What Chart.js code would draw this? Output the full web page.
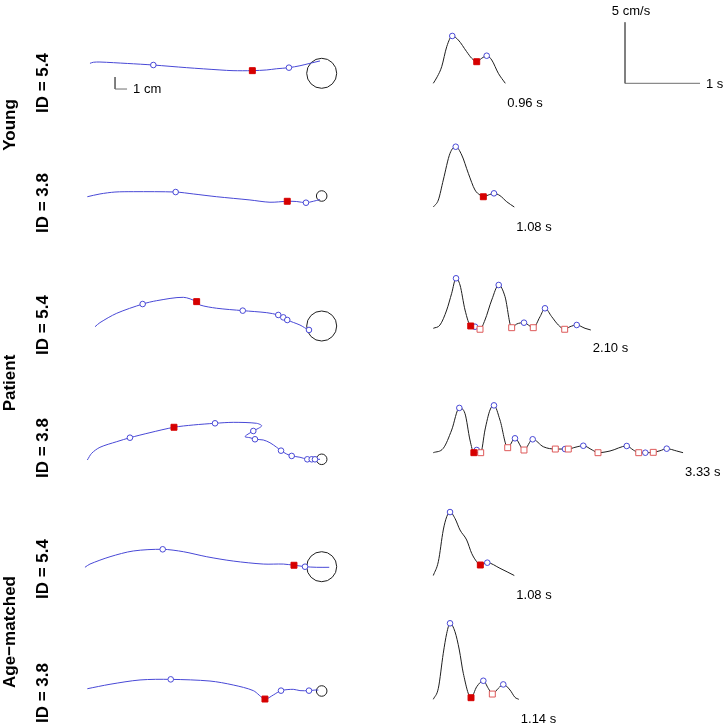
<!DOCTYPE html>
<html>
<head>
<meta charset="utf-8">
<script src="https://cdn.jsdelivr.net/npm/chart.js@4.4.1/dist/chart.umd.min.js"></script>
<style>
  html, body { margin: 0; padding: 0; background: #fff; }
  canvas { display: block; }
</style>
</head>
<body>
<canvas id="fig" width="725" height="727"></canvas>
<script>
// hand paths in cm, target centre at (0,0)
// velocity profiles: [time s, speed cm/s]

const groups = ['Young', 'Patient', 'Age\u2212matched'];
const idLabels = ['ID = 5.4', 'ID = 3.8', 'ID = 5.4', 'ID = 3.8', 'ID = 5.4', 'ID = 3.8'];
const durations = [0.96, 1.08, 2.10, 3.33, 1.08, 1.14];
const targetRadius = [1.25, 0.44, 1.25, 0.44, 1.25, 0.44];

// Young, ID 5.4
const youngHiPath = [[-19.31,0.83],[-19.03,0.92],[-18.48,0.94],[-16.2,0.82],[-14.03,0.69],[-11.25,0.47],[-8.48,0.28],[-7.39,0.22],[-5.78,0.22],[-4.58,0.28],[-3.75,0.38],[-2.73,0.47],[-1.81,0.63],[-0.98,0.83],[-0.14,1.03]];
const youngHiPathPeaks = [[-14.03,0.69],[-2.73,0.47]];
const youngHiPathSwitch = [[-5.78,0.22]];
const youngHiVel = [[0,0],[0.053,0.54],[0.112,1.36],[0.179,3.0],[0.253,3.88],[0.333,3.55],[0.445,2.59],[0.512,2.05],[0.579,1.77],[0.645,2.05],[0.712,2.26],[0.779,1.91],[0.867,0.82],[0.96,0]];
const youngHiVelPeaks = [[0.253,3.88],[0.712,2.26]];
const youngHiVelSwitch = [[0.579,1.77]];
const youngHiVelSub = [];

// Young, ID 3.8
const youngLoPath = [[-19.53,-0.06],[-18.48,0.17],[-17.23,0.33],[-15.7,0.36],[-12.17,0.33],[-10.7,0.17],[-8.75,-0.06],[-5.98,-0.33],[-4.31,-0.52],[-2.87,-0.44],[-2.08,-0.46],[-1.31,-0.56],[-0.7,-0.44],[-0.14,-0.3]];
const youngLoPathPeaks = [[-12.17,0.33],[-1.31,-0.56]];
const youngLoPathSwitch = [[-2.87,-0.44]];
const youngLoVel = [[0,0],[0.067,0.57],[0.133,2.21],[0.223,4.4],[0.299,4.94],[0.379,4.26],[0.467,2.76],[0.556,1.39],[0.623,0.98],[0.667,0.84],[0.733,0.98],[0.809,1.12],[0.889,0.93],[0.979,0.43],[1.08,0]];
const youngLoVelPeaks = [[0.299,4.94],[0.809,1.12]];
const youngLoVelSwitch = [[0.667,0.84]];
const youngLoVelSub = [];

// Patient, ID 5.4
const patientHiPath = [[-18.89,-0.06],[-18.48,0.28],[-17.08,1.06],[-14.92,1.83],[-13.75,2.11],[-11.53,2.39],[-10.42,2.03],[-10.14,1.75],[-8.75,1.48],[-6.58,1.28],[-4.58,1.11],[-3.62,0.92],[-3.2,0.72],[-2.87,0.5],[-1.81,0.08],[-1.06,-0.33],[-0.83,-0.25]];
const patientHiPathPeaks = [[-14.92,1.83],[-6.58,1.28],[-3.62,0.92],[-3.2,0.72],[-2.87,0.5],[-1.06,-0.33]];
const patientHiPathSwitch = [[-10.42,2.03]];
const patientHiVel = [[0,0],[0.089,0.27],[0.179,1.5],[0.245,2.87],[0.303,4.1],[0.356,3.55],[0.423,1.5],[0.499,0.19],[0.556,0.13],[0.623,-0.08],[0.689,0.68],[0.779,2.32],[0.872,3.55],[0.956,2.6],[1.045,0.05],[1.112,0.35],[1.209,0.46],[1.333,0.05],[1.423,0.95],[1.489,1.64],[1.579,0.95],[1.667,0.27],[1.752,-0.08],[1.823,0.13],[1.912,0.27],[2.023,0],[2.1,-0.14]];
const patientHiVelPeaks = [[0.303,4.1],[0.556,0.13],[0.872,3.55],[1.209,0.46],[1.489,1.64],[1.912,0.27]];
const patientHiVelSwitch = [[0.499,0.19]];
const patientHiVelSub = [[0.623,-0.08],[1.045,0.05],[1.333,0.05],[1.752,-0.08]];

// Patient, ID 3.8
const patientLoPath = [[-19.53,-0.06],[-19.17,0.5],[-18.48,1.0],[-17.08,1.47],[-15.98,1.8],[-14.31,2.22],[-12.31,2.67],[-10.7,2.86],[-8.89,3.0],[-7.37,3.08],[-5.42,3.0],[-5.0,2.78],[-5.7,2.36],[-6.25,2.03],[-6.39,1.88],[-5.98,1.8],[-5.56,1.67],[-4.87,1.61],[-4.31,1.38],[-3.75,1.0],[-3.39,0.72],[-2.92,0.44],[-2.5,0.28],[-1.81,0.17],[-1.2,0],[-0.83,0],[-0.56,0],[-0.14,0]];
const patientLoPathPeaks = [[-15.98,1.8],[-8.89,3.0],[-5.7,2.36],[-5.56,1.67],[-3.39,0.72],[-2.5,0.28],[-1.2,0],[-0.83,0],[-0.56,0]];
const patientLoPathSwitch = [[-12.31,2.67]];
const patientLoVel = [[0,0],[0.133,0.36],[0.245,1.86],[0.347,3.67],[0.423,3.2],[0.489,1.04],[0.541,0],[0.579,0.22],[0.632,0],[0.689,1.86],[0.756,3.5],[0.809,3.88],[0.889,2.68],[0.992,0.41],[1.089,1.18],[1.209,0.22],[1.325,1.1],[1.467,0.49],[1.627,0.3],[1.756,0.3],[1.8,0.3],[1.889,0.44],[2.0,0.57],[2.12,0.22],[2.196,0],[2.356,0.14],[2.579,0.55],[2.667,0.22],[2.739,0],[2.827,0],[2.933,0.03],[3.023,0.16],[3.112,0.33],[3.245,0.14],[3.33,0]];
const patientLoVelPeaks = [[0.347,3.67],[0.579,0.22],[0.809,3.88],[1.089,1.18],[1.325,1.1],[1.756,0.3],[2.0,0.57],[2.579,0.55],[2.827,0],[3.112,0.33]];
const patientLoVelSwitch = [[0.541,0]];
const patientLoVelSub = [[0.632,0],[0.992,0.41],[1.209,0.22],[1.627,0.3],[1.8,0.3],[2.196,0],[2.739,0],[2.933,0.03]];

// Age-matched, ID 5.4
const ageHiPath = [[-19.73,-0.05],[-19.31,0.22],[-17.64,0.83],[-15.7,1.31],[-13.25,1.45],[-11.53,1.25],[-9.58,0.83],[-7.37,0.47],[-4.87,0.22],[-3.2,0.22],[-2.31,0.12],[-1.81,0.06],[-1.39,0],[-0.42,-0.05],[0.63,-0.05]];
const ageHiPathPeaks = [[-13.25,1.45],[-1.39,0]];
const ageHiPathSwitch = [[-2.31,0.12]];
const ageHiVel = [[0,0],[0.067,1.13],[0.133,3.73],[0.179,4.82],[0.223,5.2],[0.289,4.68],[0.356,3.73],[0.445,2.91],[0.512,1.81],[0.579,1.13],[0.627,0.86],[0.72,1.05],[0.889,0.59],[1.08,0]];
const ageHiVelPeaks = [[0.223,5.2],[0.72,1.05]];
const ageHiVelSwitch = [[0.627,0.86]];
const ageHiVelSub = [];

// Age-matched, ID 3.8
const ageLoPath = [[-19.53,0.19],[-17.64,0.56],[-15.14,0.92],[-12.58,0.97],[-9.31,0.83],[-7.37,0.5],[-5.7,0.03],[-4.73,-0.67],[-4.03,-0.33],[-3.39,0.03],[-2.37,0.14],[-1.81,0.03],[-1.06,0.03],[-0.56,0.08],[-0.28,0.08]];
const ageLoPathPeaks = [[-12.58,0.97],[-3.39,0.03],[-1.06,0.03]];
const ageLoPathSwitch = [[-4.73,-0.67]];
const ageLoVel = [[0,0],[0.067,0.9],[0.133,3.77],[0.179,5.41],[0.223,6.23],[0.289,5.54],[0.347,4.04],[0.4,2.13],[0.503,0.13],[0.579,1.03],[0.667,1.52],[0.733,0.9],[0.787,0.43],[0.867,0.9],[0.933,1.22],[1.023,0.76],[1.089,0.16],[1.14,0]];
const ageLoVelPeaks = [[0.223,6.23],[0.667,1.52],[0.933,1.22]];
const ageLoVelSwitch = [[0.503,0.13]];
const ageLoVelSub = [[0.787,0.43]];

const rows = [
  [youngHiPath, youngHiPathPeaks, youngHiPathSwitch, youngHiVel, youngHiVelPeaks, youngHiVelSwitch, youngHiVelSub],
  [youngLoPath, youngLoPathPeaks, youngLoPathSwitch, youngLoVel, youngLoVelPeaks, youngLoVelSwitch, youngLoVelSub],
  [patientHiPath, patientHiPathPeaks, patientHiPathSwitch, patientHiVel, patientHiVelPeaks, patientHiVelSwitch, patientHiVelSub],
  [patientLoPath, patientLoPathPeaks, patientLoPathSwitch, patientLoVel, patientLoVelPeaks, patientLoVelSwitch, patientLoVelSub],
  [ageHiPath, ageHiPathPeaks, ageHiPathSwitch, ageHiVel, ageHiVelPeaks, ageHiVelSwitch, ageHiVelSub],
  [ageLoPath, ageLoPathPeaks, ageLoPathSwitch, ageLoVel, ageLoVelPeaks, ageLoVelSwitch, ageLoVelSub]
];

// layout (page pixels)
const W = 725, H = 727;
const pxPerCm = 12, pxPerSec = 75, pxPerSpeed = 12.2;
const targetX = 321.7, velStartX = 433.3;
const targetY = [73.3, 196, 326, 459.3, 566.7, 691];
const velBaseY = [83.3, 207, 328.3, 452.7, 575.5, 699.3];

const blue = 'rgb(72,72,214)';
const red = 'rgb(214,0,0)';
const pink = 'rgb(222,90,90)';
const dark = 'rgb(30,30,30)';
const grey = 'rgb(110,110,110)';

const pts = a => a.map(p => ({x: p[0], y: p[1]}));

const scales = {};
const datasets = [];

function lineSet(data, xs, ys, color, mono) {
  datasets.push({
    data: pts(data), xAxisID: xs, yAxisID: ys, showLine: true,
    borderColor: color, borderWidth: 1, pointRadius: 0, fill: false,
    tension: mono ? 0 : 0.3, cubicInterpolationMode: mono ? 'monotone' : 'default',
    clip: false, order: 3
  });
}

function markSet(data, xs, ys, style, r, stroke, fill, order) {
  if (!data.length) return;
  datasets.push({
    data: pts(data), xAxisID: xs, yAxisID: ys, showLine: false,
    pointStyle: style, pointRadius: r, pointBorderWidth: 1,
    pointBorderColor: stroke, pointBackgroundColor: fill,
    clip: false, order: order
  });
}

rows.forEach((r, i) => {
  const tx = 'xT' + i, ty = 'yT' + i, vx = 'xV' + i, vy = 'yV' + i;
  scales[tx] = {type: 'linear', axis: 'x', display: false, min: -targetX / pxPerCm, max: (W - targetX) / pxPerCm};
  scales[ty] = {type: 'linear', axis: 'y', display: false, min: (targetY[i] - H) / pxPerCm, max: targetY[i] / pxPerCm};
  scales[vx] = {type: 'linear', axis: 'x', display: false, min: -velStartX / pxPerSec, max: (W - velStartX) / pxPerSec};
  scales[vy] = {type: 'linear', axis: 'y', display: false, min: (velBaseY[i] - H) / pxPerSpeed, max: velBaseY[i] / pxPerSpeed};

  // target
  datasets.push({
    data: [{x: 0, y: 0}], xAxisID: tx, yAxisID: ty, showLine: false,
    pointRadius: targetRadius[i] * pxPerCm, pointBorderWidth: 1,
    pointBorderColor: dark, pointBackgroundColor: 'rgba(0,0,0,0)', clip: false, order: 4
  });
  lineSet(r[0], tx, ty, blue, false);
  markSet(r[1], tx, ty, 'circle', 2.8, blue, '#fff', 2);
  markSet(r[2], tx, ty, 'rect', 4.2, red, red, 1);

  lineSet(r[3], vx, vy, dark, true);
  markSet(r[6], vx, vy, 'rect', 4.2, pink, '#fff', 2);
  markSet(r[4], vx, vy, 'circle', 2.8, blue, '#fff', 2);
  markSet(r[5], vx, vy, 'rect', 4.2, red, red, 1);
});

// scale bars: 1 cm in row 1 path units, 5 cm/s and 1 s in row 1 speed units
const cmBarCorner = [-17.22, -1.31];
const velBarCorner = [2.556, 0];
datasets.push({
  data: pts([[cmBarCorner[0], cmBarCorner[1] + 1], cmBarCorner, [cmBarCorner[0] + 1, cmBarCorner[1]]]),
  xAxisID: 'xT0', yAxisID: 'yT0', showLine: true, borderColor: grey, borderWidth: 1,
  pointRadius: 0, tension: 0, clip: false, order: 5
});
datasets.push({
  data: pts([[velBarCorner[0], velBarCorner[1] + 5], velBarCorner, [velBarCorner[0] + 1, velBarCorner[1]]]),
  xAxisID: 'xV0', yAxisID: 'yV0', showLine: true, borderColor: grey, borderWidth: 1,
  pointRadius: 0, tension: 0, clip: false, order: 5
});

const textPlugin = {
  id: 'figText',
  afterDraw(chart) {
    const ctx = chart.ctx;
    ctx.save();
    ctx.fillStyle = '#000';

    // durations under each speed profile
    ctx.font = '13px "Liberation Sans", Arial, sans-serif';
    ctx.textAlign = 'left';
    ctx.textBaseline = 'middle';
    durations.forEach((d, i) => {
      const sx = chart.scales['xV' + i], sy = chart.scales['yV' + i];
      ctx.fillText(d.toFixed(2) + ' s', sx.getPixelForValue(d) + 2, sy.getPixelForValue(0) + 20);
    });

    // scale bar labels
    const bx = chart.scales.xT0, by = chart.scales.yT0;
    ctx.fillText('1 cm', bx.getPixelForValue(cmBarCorner[0] + 1) + 6, by.getPixelForValue(cmBarCorner[1]));
    const vx = chart.scales.xV0, vy = chart.scales.yV0;
    ctx.fillText('1 s', vx.getPixelForValue(velBarCorner[0] + 1) + 6, vy.getPixelForValue(0) + 1);
    ctx.textAlign = 'center';
    ctx.fillText('5 cm/s', vx.getPixelForValue(velBarCorner[0]) + 6, vy.getPixelForValue(5) - 11);

    // rotated row labels
    ctx.font = 'bold 17px "Liberation Sans", Arial, sans-serif';
    ctx.textBaseline = 'alphabetic';
    const vert = (txt, x, y) => {
      ctx.save();
      ctx.translate(x, y);
      ctx.rotate(-Math.PI / 2);
      ctx.fillText(txt, 0, 0);
      ctx.restore();
    };
    const groupY = [125, 383, 632];
    groups.forEach((g, i) => vert(g, 15, groupY[i]));
    const idY = [83, 203, 325, 448, 569, 693];
    idLabels.forEach((t, i) => vert(t, 48, idY[i]));
    ctx.restore();
  }
};

new Chart(document.getElementById('fig'), {
  type: 'scatter',
  data: {datasets: datasets},
  options: {
    responsive: false,
    animation: false,
    events: [],
    layout: {padding: 0, autoPadding: false},
    plugins: {legend: {display: false}, tooltip: {enabled: false}},
    scales: scales
  },
  plugins: [textPlugin]
});
</script>
</body>
</html>
